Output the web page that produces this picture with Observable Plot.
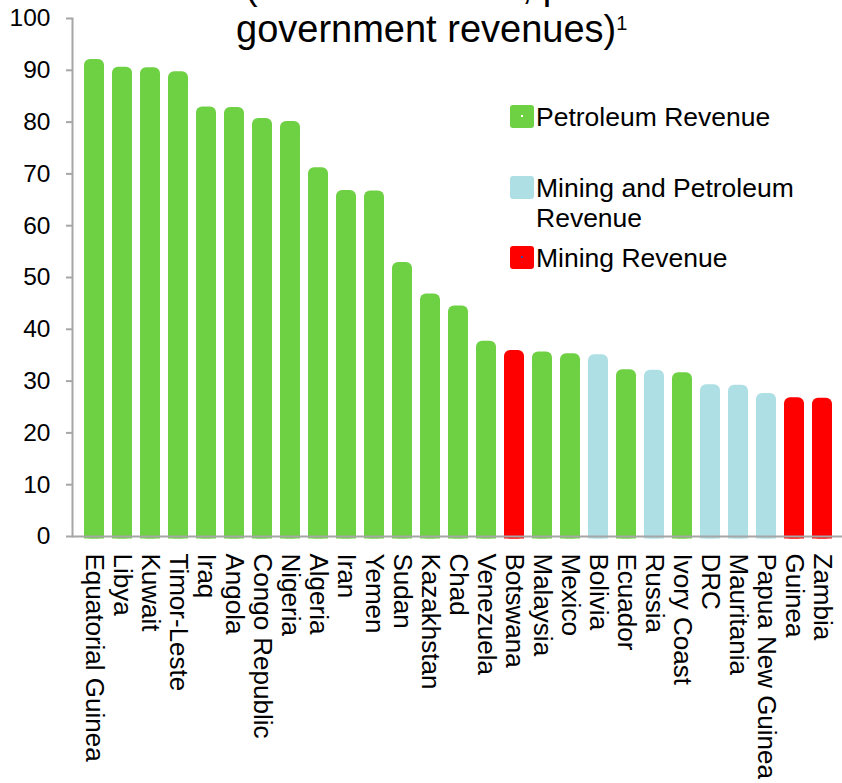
<!DOCTYPE html>
<html>
<head>
<meta charset="utf-8">
<script src="https://cdn.jsdelivr.net/npm/d3@7"></script>
<script src="https://cdn.jsdelivr.net/npm/@observablehq/plot@0.6"></script>
<style>
  html, body { margin: 0; padding: 0; background: #fff; overflow: hidden; }
  #chart { position: relative; width: 842px; height: 783px; font-family: "Liberation Sans", Arial, sans-serif; color: #000; }
  #chart svg { position: absolute; left: 0; top: 0; }
  #title { font-family: "Liberation Sans", Arial, sans-serif; font-size: 38px; fill: #000; }
  #legend .item { position: absolute; left: 510px; width: 300px; font-size: 26.5px; line-height: 30px; }
  #legend .item:nth-child(1) { top: 102px; }
  #legend .item:nth-child(2) { top: 173px; }
  #legend .item:nth-child(3) { top: 243px; }
  #legend .swatch { position: absolute; left: 0; top: 3px; width: 24px; height: 23px; border-radius: 3px; }
  #legend .swatch::after { content: ""; position: absolute; left: 11px; top: 10px; width: 2px; height: 2px; background: var(--dot); }
  #legend .label { margin-left: 26px; width: 270px; }
</style>
</head>
<body>
<div id="chart">
  <svg id="title" width="842" height="60">
    <text x="245" y="-1">(Latest available, percent of total</text>
    <text x="236" y="41.7">government revenues)<tspan font-size="20" dy="-12">1</tspan></text>
  </svg>
  <div id="legend"></div>
</div>
<script>
// Resource revenue as a share of total government revenue, by country
const countries = [
  "Equatorial Guinea", "Libya", "Kuwait", "Timor-Leste", "Iraq", "Angola",
  "Congo Republic", "Nigeria", "Algeria", "Iran", "Yemen", "Sudan",
  "Kazakhstan", "Chad", "Venezuela", "Botswana", "Malaysia", "Mexico",
  "Bolivia", "Ecuador", "Russia", "Ivory Coast", "DRC", "Mauritania",
  "Papua New Guinea", "Guinea", "Zambia"
];
const revenueShare = [
  92.1, 90.6, 90.5, 89.7, 82.9, 82.8,
  80.7, 80.1, 71.2, 66.8, 66.7, 52.9,
  46.8, 44.5, 37.7, 35.9, 35.6, 35.3,
  35.1, 32.2, 32.1, 31.6, 29.3, 29.2,
  27.6, 26.8, 26.7
];
const revenueSource = [
  "Petroleum Revenue", "Petroleum Revenue", "Petroleum Revenue", "Petroleum Revenue", "Petroleum Revenue", "Petroleum Revenue",
  "Petroleum Revenue", "Petroleum Revenue", "Petroleum Revenue", "Petroleum Revenue", "Petroleum Revenue", "Petroleum Revenue",
  "Petroleum Revenue", "Petroleum Revenue", "Petroleum Revenue", "Mining Revenue", "Petroleum Revenue", "Petroleum Revenue",
  "Mining and Petroleum Revenue", "Petroleum Revenue", "Mining and Petroleum Revenue", "Petroleum Revenue", "Mining and Petroleum Revenue", "Mining and Petroleum Revenue",
  "Mining and Petroleum Revenue", "Mining Revenue", "Mining Revenue"
];
const sourceLabels = ["Petroleum Revenue", "Mining and Petroleum Revenue", "Mining Revenue"];
const sourceColors = ["#6dd143", "#aedfe4", "#ff0000"];
const yTicks = [0, 10, 20, 30, 40, 50, 60, 70, 80, 90, 100];

const rows = countries.map((country, i) => ({country, share: revenueShare[i], source: revenueSource[i]}));
const axisGray = "#a6a6a6";
const font = "'Liberation Sans', Arial, sans-serif";

// Rounded top on one bar, a square-cornered copy underneath keeps the bottom flat
const barOptions = {x: "country", y: "share", fill: "source", insetBottom: -2.5};

const chart = Plot.plot({
  width: 842,
  height: 783,
  marginLeft: 72,
  marginRight: 0,
  marginTop: 18,
  marginBottom: 247,
  style: {fontFamily: font, background: "transparent", color: "#000", overflow: "visible"},
  x: {domain: countries, range: [74.5, 842], paddingInner: 0.28, paddingOuter: 0.11, label: null},
  y: {domain: [0, 100], label: null},
  color: {domain: sourceLabels, range: sourceColors},
  marks: [
    Plot.barY(rows, {...barOptions, rx: 6}),
    Plot.barY(rows, {...barOptions, insetTop: 10}),
    Plot.frame({anchor: "left", stroke: axisGray, strokeWidth: 2}),
    Plot.ruleY([0], {stroke: axisGray, strokeWidth: 2}),
    Plot.axisY({ticks: yTicks, tickSize: 6, tickPadding: 16, fontSize: 24.5, stroke: axisGray, strokeWidth: 2, fill: "#000", label: null}),
    Plot.axisX({tickSize: 0, tickRotate: 90, tickPadding: 17, fontSize: 26, fill: "#000", label: null})
  ]
});
document.getElementById("chart").insertBefore(chart, document.getElementById("title"));

// Legend: one swatch per revenue source
const dots = ["#ffffff", "#aedfe4", "#3344aa"];
const legend = document.getElementById("legend");
sourceLabels.forEach((label, i) => {
  const item = document.createElement("div");
  item.className = "item";
  const swatch = document.createElement("div");
  swatch.className = "swatch";
  swatch.style.background = sourceColors[i];
  swatch.style.setProperty("--dot", dots[i]);
  const text = document.createElement("div");
  text.className = "label";
  text.textContent = label;
  item.append(swatch, text);
  legend.append(item);
});
</script>
</body>
</html>
